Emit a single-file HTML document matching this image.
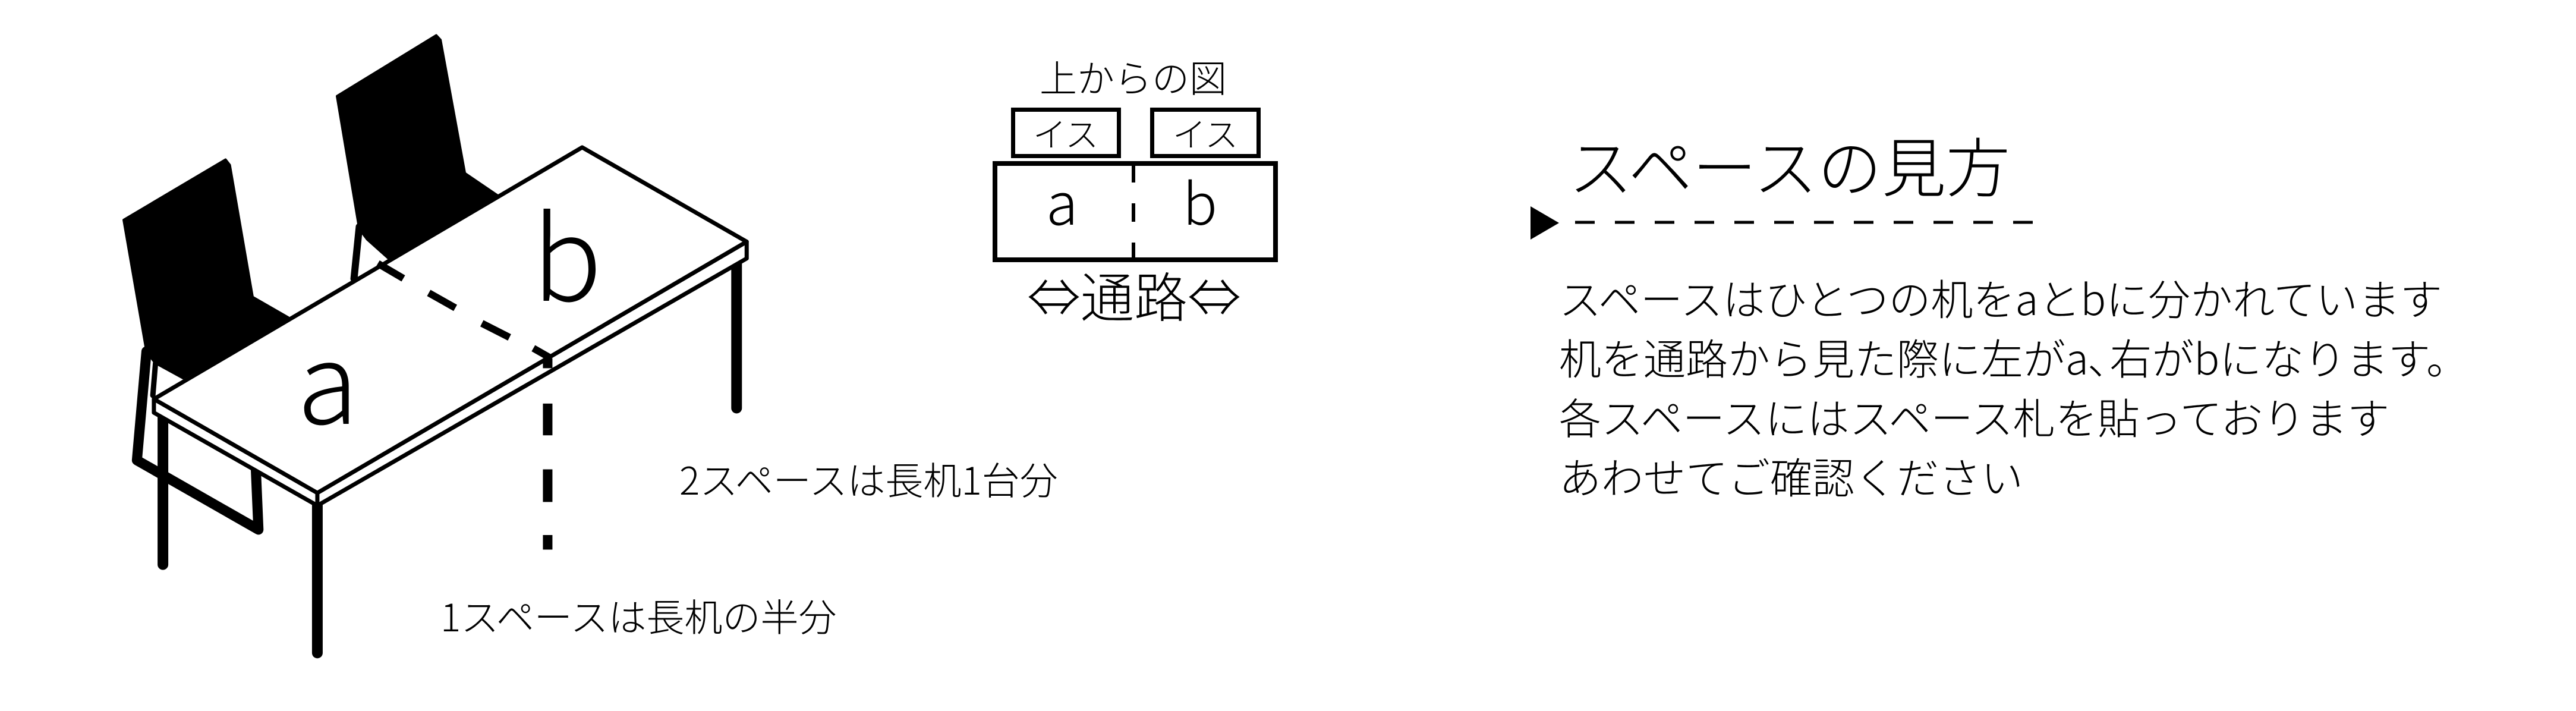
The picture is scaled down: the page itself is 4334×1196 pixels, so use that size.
<!DOCTYPE html>
<html><head><meta charset="utf-8"><style>
html,body{margin:0;padding:0;background:#fff;}
svg{display:block;}
text{font-family:"Noto Sans CJK JP","Liberation Sans",sans-serif;fill:#000;font-weight:300;}
</style></head><body>
<svg width="4334" height="1196" viewBox="0 0 4334 1196" xmlns="http://www.w3.org/2000/svg">
<rect width="4334" height="1196" fill="#fff"/>
<svg x="0" y="0" width="1400" height="1196" viewBox="0 0 1568 1568" preserveAspectRatio="none">
  <g stroke="#000" stroke-linecap="round" stroke-linejoin="round">
    <polygon points="233,485 425,352 433,364 476,655 543,700 345,834 292,800 276,775" fill="#000" stroke-width="4" vector-effect="non-scaling-stroke"/>
    <polyline points="276,775 258,1015 487,1168 482,1032" fill="none" stroke-width="17" vector-effect="non-scaling-stroke"/>
    <line x1="293" y1="801" x2="288" y2="872" stroke-width="9" vector-effect="non-scaling-stroke"/>
    <polygon points="635,212 822,78 830,88 876,382 940,433 735,573 692,528 677,505" fill="#000" stroke-width="4" vector-effect="non-scaling-stroke"/>
    <line x1="677" y1="500" x2="667" y2="615" stroke-width="12" vector-effect="non-scaling-stroke"/>
    <line x1="307" y1="905" x2="307" y2="1245" stroke-width="18" vector-effect="non-scaling-stroke"/>
    <line x1="1388" y1="570" x2="1388" y2="900" stroke-width="18" vector-effect="non-scaling-stroke"/>
    <line x1="598" y1="1110" x2="598" y2="1440" stroke-width="18" vector-effect="non-scaling-stroke"/>
    <polygon points="290,880 598,1087 1407,533 1407,570 598,1115 290,910" fill="#fff" stroke-width="7" vector-effect="non-scaling-stroke"/>
    <line x1="598" y1="1087" x2="598" y2="1115" stroke-width="7" vector-effect="non-scaling-stroke"/>
    <polygon points="290,880 1097,325 1407,533 598,1087" fill="#fff" stroke-width="7" vector-effect="non-scaling-stroke"/>
    <g stroke-linecap="butt" stroke-width="12">
      <line x1="712" y1="581" x2="760" y2="614" vector-effect="non-scaling-stroke"/>
      <line x1="808" y1="646" x2="858" y2="679" vector-effect="non-scaling-stroke"/>
      <line x1="908" y1="713" x2="960" y2="744" vector-effect="non-scaling-stroke"/>
      <line x1="1005" y1="768" x2="1035" y2="788" vector-effect="non-scaling-stroke"/>
    </g>
    <g stroke-linecap="butt" stroke-width="16">
      <line x1="1032" y1="790" x2="1032" y2="812" vector-effect="non-scaling-stroke"/>
      <line x1="1032" y1="890" x2="1032" y2="960" vector-effect="non-scaling-stroke"/>
      <line x1="1032" y1="1035" x2="1032" y2="1107" vector-effect="non-scaling-stroke"/>
      <line x1="1032" y1="1180" x2="1032" y2="1212" vector-effect="non-scaling-stroke"/>
    </g>
  </g>
</svg>
<text x="500" y="713" font-size="188">a</text>
<text x="895" y="506" font-size="195">b</text>
<text x="1143" y="832" font-size="64">2スペースは長机1台分</text>
<text x="741" y="1062" font-size="64">1スペースは長机の半分</text>

<text x="1749" y="155" font-size="63">上からの図</text>
<rect x="1704.5" y="184.5" width="178" height="78" fill="none" stroke="#000" stroke-width="7"/>
<rect x="1938.5" y="184.5" width="179" height="78" fill="none" stroke="#000" stroke-width="7"/>
<text x="1793" y="247" font-size="56" text-anchor="middle">イス</text>
<text x="2028" y="247" font-size="56" text-anchor="middle">イス</text>
<rect x="1674" y="275" width="472" height="162" fill="none" stroke="#000" stroke-width="8"/>
<g fill="#000">
<rect x="1904" y="279" width="6" height="28"/>
<rect x="1904" y="342" width="6" height="31"/>
<rect x="1904" y="408" width="6" height="29"/>
</g>
<text x="1760" y="378" font-size="98">a</text>
<text x="1990" y="378" font-size="96">b</text>
<text x="1728" y="533" font-size="90">⇔通路⇔</text>

<text x="2639" y="322" font-size="108">スペースの見方</text>
<polygon points="2575,347 2623,375 2575,403" fill="#000"/>
<line x1="2650" y1="374" x2="3420" y2="374" stroke="#000" stroke-width="5" stroke-dasharray="33 34"/>
<g font-size="71">
<text x="2623" y="530">スペースはひとつの机をaとbに分かれています</text>
<text x="2623" y="630">机を通路から見た際に左がa､右がbになります。</text>
<text x="2623" y="730">各スペースにはスペース札を貼っております</text>
<text x="2623" y="830">あわせてご確認ください</text>
</g>
</svg>
</body></html>
